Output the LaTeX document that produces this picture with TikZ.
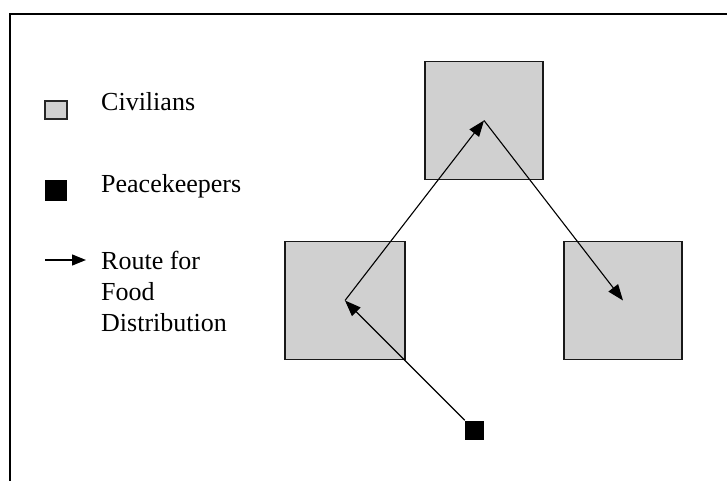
\documentclass[tikz,border=0pt]{standalone}
\usepackage{fontspec}
\setmainfont{Liberation Serif}
\usetikzlibrary{arrows.meta}
\definecolor{civgray}{RGB}{208,208,208}
\begin{document}
\begin{tikzpicture}[x=1pt,y=-1pt,
  civbox/.style={draw=black!90,line width=1.8pt,fill=civgray,inner sep=0pt,minimum width=118pt,minimum height=118pt},
  pkbox/.style={fill=black,inner sep=0pt,minimum width=19pt,minimum height=19pt},
  legtext/.style={anchor=base west,inner sep=0pt,font=\fontsize{26}{31}\selectfont},
  route/.style={line width=1.1pt,-{Triangle[length=16pt,width=12pt]}},
  frameline/.style={line width=2.6pt}]
\useasboundingbox (0,0) rectangle (727,481);
% frame (top and left edges)
\draw[frameline] (727,14) -- (10,14) -- (10,481);
% legend
\node[draw=black!85,line width=1.4pt,fill=civgray,inner sep=0pt,minimum width=22pt,minimum height=18pt] (legciv) at (56,110) {};
\node[pkbox,minimum width=22pt,minimum height=21pt] (legpk) at (56,190.5) {};
\coordinate (legA) at (45,260);
\coordinate (legB) at (86,260);
\draw[line width=1.3pt,-{Triangle[length=14pt,width=11pt]}] (legA) -- (legB);
\node[legtext] (tciv) at (101,111) {Civilians};
\node[legtext] (tpk) at (101,192) {Peacekeepers};
\node[anchor=north west,inner sep=0pt,align=left,font=\fontsize{26}{31}\selectfont] (troute) at (101,251) {Route for\\Food\\Distribution};
% civilians
\node[civbox] (T) at (484,120.5) {};
\node[civbox,minimum width=120pt] (L) at (345,300.5) {};
\node[civbox] (R) at (623,300.5) {};
% peacekeepers
\node[pkbox] (P) at (474.5,430) {};
% routes
\draw[route] (P.north west) -- (L.center);
\draw[route] (L.center) -- (T.center);
\draw[route] (T.center) -- (R.center);
\end{tikzpicture}
\end{document}
